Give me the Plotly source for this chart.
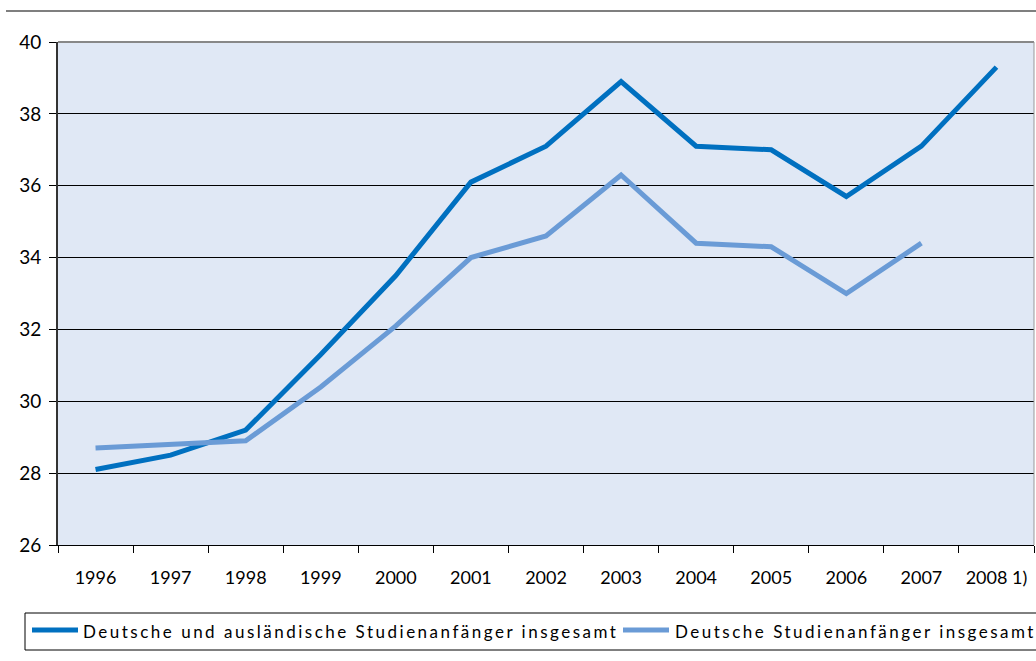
import plotly.graph_objects as go

years = ["1996", "1997", "1998", "1999", "2000", "2001", "2002", "2003",
         "2004", "2005", "2006", "2007", "2008 1)"]
gesamt = [28.1, 28.5, 29.2, 31.3, 33.5, 36.1, 37.1, 38.9, 37.1, 37.0, 35.7, 37.1, 39.3]
deutsche = [28.7, 28.8, 28.9, 30.4, 32.1, 34.0, 34.6, 36.3, 34.4, 34.3, 33.0, 34.4, None]
name_gesamt = "Deutsche und ausländische Studienanfänger insgesamt"
name_deutsche = "Deutsche Studienanfänger insgesamt"
c_gesamt = "#0070C0"
c_deutsche = "#6A9BD6"

FONT = "Lato, 'Open Sans', sans-serif"

fig = go.Figure()
fig.add_trace(go.Scatter(x=years, y=gesamt, mode="lines", name=name_gesamt,
                         line=dict(color=c_gesamt, width=5)))
fig.add_trace(go.Scatter(x=years, y=deutsche, mode="lines", name=name_deutsche,
                         line=dict(color=c_deutsche, width=5)))

fig.update_layout(
    width=1036, height=661,
    margin=dict(l=58, r=2, t=42, b=116),
    paper_bgcolor="white",
    plot_bgcolor="#E0E8F5",
    font=dict(family=FONT, size=18, color="black"),
    showlegend=False,
    xaxis=dict(type="category", tickson="boundaries", ticks="outside", ticklen=7,
               tickcolor="black", showline=True, linecolor="black", linewidth=1,
               showgrid=False, tickfont=dict(size=18), range=[-0.5, 12.5],
               ticklabelstandoff=16),
    yaxis=dict(range=[26, 40], dtick=2, showgrid=True, gridcolor="black", gridwidth=1,
               ticks="outside", ticklen=7, tickcolor="black", showline=True,
               linecolor="#333333", linewidth=2, zeroline=False,
               tickfont=dict(size=19), ticklabelstandoff=4),
)

W, H = 976.0, 503.0
def px(x):
    return (x - 58) / W
def py(y):
    return (545 - y) / H

# top separator line
fig.add_shape(type="line", xref="paper", yref="paper", x0=px(6), x1=px(1040),
              y0=py(11), y1=py(11), line=dict(color="#555555", width=1.5))
# grey top border of plot at 40
fig.add_shape(type="line", xref="paper", yref="paper", x0=0, x1=1, y0=1, y1=1,
              line=dict(color="#888888", width=2))
fig.add_shape(type="line", xref="paper", yref="paper", x0=1, x1=1, y0=0, y1=1,
              line=dict(color="#999999", width=1))

# legend box
fig.add_shape(type="rect", xref="paper", yref="paper", x0=px(25), x1=px(1045),
              y0=py(650), y1=py(613), line=dict(color="black", width=1),
              fillcolor="white")
legend_items = [(name_gesamt, c_gesamt, 32, 78, 81),
                (name_deutsche, c_deutsche, 623, 669, 673)]
for name, col, lx0, lx1, tx in legend_items:
    fig.add_shape(type="line", xref="paper", yref="paper", x0=px(lx0), x1=px(lx1),
                  y0=py(630), y1=py(630), line=dict(color=col, width=5))
    fig.add_annotation(xref="paper", yref="paper", x=px(tx), y=py(631), text=name,
                       showarrow=False, xanchor="left", yanchor="middle", align="left",
                       font=dict(family=FONT, size=17, color="black"))

post = ("document.body.style.margin='0';"
        "document.querySelectorAll('.annotation-text').forEach(function(e){"
        "e.style.letterSpacing='2.5px';});")
fig.write_html("out.html", post_script=post, config={"displayModeBar": False})
